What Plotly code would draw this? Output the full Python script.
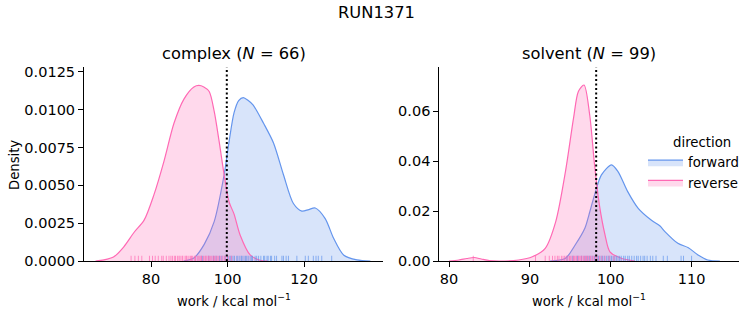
import plotly.graph_objects as go

# ---------------- data ----------------
# KDE curves (work in kcal/mol, density)
cx_fwd_x = [88.5, 91.2, 93.9, 96.5, 99.1, 100.4, 101.7, 102.9, 104.1, 105.4, 106.7, 109.4, 112.0, 114.6, 117.2, 119.4, 121.2, 122.9, 125.5, 127.7, 130.3, 133.8, 137.3]
cx_fwd_d = [0.0, 0.0002, 0.0011, 0.0026, 0.0057, 0.0079, 0.0098, 0.0106, 0.0108, 0.0106, 0.0103, 0.0091, 0.0078, 0.0057, 0.0038, 0.0033, 0.0034, 0.0035, 0.0028, 0.0015, 0.0004, 0.00007, 0.0]
cx_rev_x = [65.5, 67.7, 70.3, 72.9, 75.6, 78.2, 80.8, 83.4, 86.0, 88.6, 91.2, 92.5, 93.8, 95.2, 96.5, 97.8, 99.1, 100.4, 101.7, 103.3, 105.9, 108.5, 110.5]
cx_rev_d = [0.0, 0.00007, 0.00028, 0.00094, 0.0019, 0.0027, 0.0044, 0.0066, 0.0091, 0.0107, 0.0115, 0.0116, 0.0115, 0.0112, 0.0099, 0.0079, 0.0057, 0.0039, 0.0031, 0.0017, 0.0004, 0.00005, 0.0]

sv_fwd_x = [92.5, 94.4, 95.6, 96.8, 97.3, 98.0, 98.85, 100.1, 100.9, 102.1, 103.4, 105.0, 106.1, 106.7, 108.3, 109.6, 110.8, 112.0, 113.5]
sv_fwd_d = [0.0, 0.0011, 0.0064, 0.0131, 0.0184, 0.0265, 0.0345, 0.0385, 0.0358, 0.0278, 0.0211, 0.0164, 0.0140, 0.0118, 0.0071, 0.0053, 0.0024, 0.0004, 0.0]
sv_rev_x = [80.0, 81.2, 82.2, 83.1, 84.0, 85.0, 86.2, 88.6, 90.3, 91.9, 93.2, 94.4, 95.4, 96.0, 96.7, 97.4, 98.0, 98.6, 99.3, 99.9, 101.3, 103.0]
sv_rev_d = [0.0, 0.0004, 0.0010, 0.0014, 0.0008, 0.0002, 0.0, 0.0004, 0.0017, 0.0051, 0.0158, 0.0358, 0.0572, 0.0679, 0.0705, 0.0585, 0.0385, 0.0224, 0.0104, 0.0037, 0.0011, 0.0]

# rug samples (approximate positions read from the tick marks)
cx_fwd_rug = [93.4, 95.1, 96.3, 97.0, 97.9, 98.5, 99.3, 100.0, 100.6, 100.9, 101.4, 101.8, 102.4, 102.7, 103.2, 103.6, 103.8, 104.3, 104.7, 105.0, 105.4, 105.9, 106.3, 106.5, 107.2, 107.6, 108.1, 108.7, 109.4, 109.7, 110.3, 110.6, 111.2, 111.5, 112.3, 112.8, 114.2, 114.6, 115.3, 115.9, 118.1, 120.3, 121.1, 122.4, 123.1, 123.7, 124.6, 127.2]
cx_rev_rug = [74.8, 75.8, 76.7, 77.6, 79.6, 80.4, 81.1, 81.9, 82.8, 83.2, 84.0, 84.7, 85.2, 85.6, 86.1, 86.4, 86.9, 87.3, 87.6, 88.1, 88.3, 88.9, 89.2, 89.4, 89.9, 90.3, 90.6, 90.8, 91.3, 91.6, 91.7, 92.2, 92.5, 92.8, 93.1, 93.2, 93.7, 94.1, 94.3, 94.6, 95.0, 95.2, 95.6, 95.9, 96.3, 96.6, 97.0, 97.3, 97.7, 98.1, 98.6, 99.1, 99.5, 100.2, 101.0]
sv_fwd_rug = [94.6, 95.3, 95.9, 96.4, 96.8, 97.1, 97.4, 97.7, 98.0, 98.3, 98.5, 98.8, 99.0, 99.2, 99.5, 99.7, 99.9, 100.1, 100.3, 100.5, 100.7, 100.9, 101.1, 101.3, 101.6, 101.8, 102.1, 102.3, 102.6, 102.9, 103.2, 103.4, 103.7, 104.0, 104.2, 104.5, 104.9, 105.2, 105.6, 106.5, 107.0, 108.7, 109.0, 110.0]
sv_rev_rug = [83.0, 90.7, 91.9, 92.4, 92.8, 93.1, 93.4, 93.6, 93.9, 94.1, 94.3, 94.5, 94.7, 94.9, 95.0, 95.2, 95.4, 95.5, 95.7, 95.8, 96.0, 96.1, 96.3, 96.4, 96.6, 96.7, 96.9, 97.0, 97.2, 97.3, 97.5, 97.7, 97.9, 98.1, 98.3, 98.6, 98.9, 99.3, 99.8, 100.4]

mean_work = [99.8, 98.2]   # dotted reference lines (complex, solvent)

tick_cx_y = [0.0, 0.0025, 0.005, 0.0075, 0.01, 0.0125]
tick_sv_y = [0.0, 0.02, 0.04, 0.06]
tick_cx_x = [80, 100, 120]
tick_sv_x = [80, 90, 100, 110]

BLUE = "#6495ED"
PINK = "#FF69B4"
BLUE_F = "rgba(100,149,237,0.25)"
PINK_F = "rgba(255,105,180,0.25)"
BLUE_R = "rgba(100,149,237,0.7)"
PINK_R = "rgba(255,105,180,0.7)"

W, H = 753, 325
FONT = "DejaVu Sans"

fig = go.Figure()

def kde(x, d, xa, ya, color, fillc, name, show):
    fig.add_trace(go.Scatter(x=x, y=d, xaxis=xa, yaxis=ya, mode="lines",
                             line=dict(color=color, width=1.2, shape="spline", smoothing=0.8),
                             fill="tozeroy", fillcolor=fillc, name=name,
                             showlegend=show, legendgroup=name, hoverinfo="skip"))

kde(cx_fwd_x, cx_fwd_d, "x", "y", BLUE, BLUE_F, "forward", False)
kde(cx_rev_x, cx_rev_d, "x", "y", PINK, PINK_F, "reverse", False)
kde(sv_fwd_x, sv_fwd_d, "x2", "y2", BLUE, BLUE_F, "forward", True)
kde(sv_rev_x, sv_rev_d, "x2", "y2", PINK, PINK_F, "reverse", True)

shapes = []
def rug(vals, xr, yr, col):
    for v in vals:
        shapes.append(dict(type="line", xref=xr, yref=yr + " domain", x0=v, x1=v, y0=0, y1=0.027,
                           line=dict(color=col, width=1), layer="above"))

rug(cx_fwd_rug, "x", "y", BLUE_R)
rug(cx_rev_rug, "x", "y", PINK_R)
rug(sv_fwd_rug, "x2", "y2", BLUE_R)
rug(sv_rev_rug, "x2", "y2", PINK_R)

for v, xr, yr in zip(mean_work, ["x", "x2"], ["y", "y2"]):
    shapes.append(dict(type="line", xref=xr, yref=yr + " domain", x0=v, x1=v, y0=0, y1=1,
                       line=dict(color="black", width=2, dash="2px,2.5px"), layer="above"))

xd1 = [84 / W, 383 / W]
xd2 = [439.3 / W, 739.3 / W]
yd = [64 / H, 257.7 / H]

axis_common = dict(showline=True, linecolor="black", linewidth=1, ticks="outside", ticklen=5,
                   tickwidth=1, tickcolor="black", showgrid=False, zeroline=False,
                   automargin=False,
                   tickfont=dict(family=FONT, size=14.5, color="black"))

fig.update_layout(
    template="none",
    width=W, height=H, autosize=False, margin=dict(l=0, r=0, t=0, b=0, pad=0),
    plot_bgcolor="white", paper_bgcolor="white",
    font=dict(family=FONT, color="black"),
    xaxis=dict(domain=xd1, range=[62.5, 140.6], tickvals=tick_cx_x, anchor="y", **axis_common),
    yaxis=dict(domain=yd, range=[0, 0.0128], tickvals=tick_cx_y, tickformat=".4f", anchor="x", **axis_common),
    xaxis2=dict(domain=xd2, range=[78.8, 115.9], tickvals=tick_sv_x, anchor="y2", **axis_common),
    yaxis2=dict(domain=yd, range=[0, 0.0776], tickvals=tick_sv_y, tickformat=".2f", anchor="x2", **axis_common),
    shapes=shapes,
    showlegend=True,
    legend=dict(font=dict(size=13.3, family=FONT), x=643 / W, y=1 - 147 / H,
                xanchor="left", yanchor="top", bgcolor="rgba(0,0,0,0)", tracegroupgap=0,
                itemwidth=35, borderwidth=0),
)

ann = [
    dict(text="RUN1371", x=376.5 / W, y=1 - 12 / H, size=16.3),
    dict(text="complex (<i>N</i> = 66)", x=233.5 / W, y=1 - 53 / H, size=16.3),
    dict(text="solvent (<i>N</i> = 99)", x=589.3 / W, y=1 - 53 / H, size=16.3),
    dict(text="work / kcal mol<sup>−1</sup>", x=233.5 / W, y=1 - 299.5 / H, size=13.2),
    dict(text="work / kcal mol<sup>−1</sup>", x=589.3 / W, y=1 - 299.5 / H, size=13.2),
    dict(text="direction", x=702 / W, y=1 - 142 / H, size=13.3),
]
for a in ann:
    fig.add_annotation(text=a["text"], x=a["x"], y=a["y"], xref="paper", yref="paper",
                       showarrow=False, xanchor="center", yanchor="middle",
                       font=dict(family=FONT, size=a["size"], color="black"))
fig.add_annotation(text="Density", x=14 / W, y=1 - 165 / H, xref="paper", yref="paper",
                   showarrow=False, textangle=-90, xanchor="center", yanchor="middle",
                   font=dict(family=FONT, size=13.2, color="black"))

fig.write_html("out.html")
